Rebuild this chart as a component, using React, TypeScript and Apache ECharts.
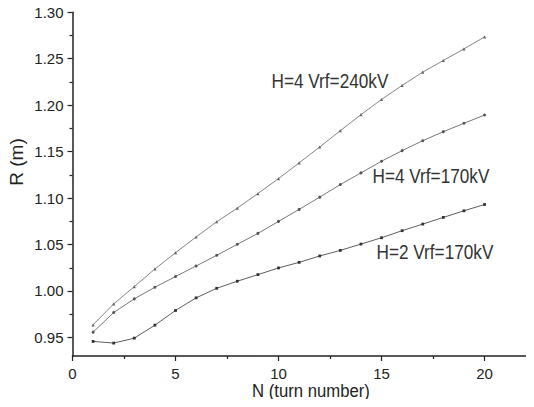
import React, { useEffect, useRef } from "react";
import * as echarts from "echarts";

const turns = [1, 2, 3, 4, 5, 6, 7, 8, 9, 10, 11, 12, 13, 14, 15, 16, 17, 18, 19, 20];
const h4v240 = [0.9636, 0.9861, 1.0047, 1.0237, 1.0412, 1.0581, 1.0745, 1.0892, 1.1049, 1.121, 1.1379, 1.155, 1.1726, 1.1898, 1.2062, 1.2213, 1.2356, 1.2481, 1.2606, 1.2735];
const h4v170 = [0.9557, 0.9768, 0.9915, 1.004, 1.0155, 1.0269, 1.0384, 1.0502, 1.062, 1.0749, 1.0878, 1.101, 1.1146, 1.1271, 1.1397, 1.1511, 1.1618, 1.1715, 1.1805, 1.1894];
const h2v170 = [0.9457, 0.9439, 0.9492, 0.9632, 0.979, 0.9926, 1.0029, 1.0105, 1.0176, 1.0248, 1.0308, 1.0377, 1.0437, 1.0505, 1.0573, 1.0649, 1.072, 1.0792, 1.0863, 1.0931];
const seriesNames = ["H=4 Vrf=240kV", "H=4 Vrf=170kV", "H=2 Vrf=170kV"];
const yTicks = [0.95, 1.0, 1.05, 1.1, 1.15, 1.2, 1.25, 1.3];
const yMinorTicks = [0.975, 1.025, 1.075, 1.125, 1.175, 1.225, 1.275];
const xTitle = "N (turn number)";
const yTitle = "R (m)";

const FONT = "'Liberation Sans', Arial, Helvetica, sans-serif";

export default function App() {
  const ref = useRef<HTMLDivElement>(null);
  useEffect(() => {
    if (!ref.current) return;
    const chart = echarts.init(ref.current, undefined, { renderer: "svg" });
    const pair = (ys: number[]) => turns.map((x, i) => [x, ys[i]]);
    const mk = (name: string, ys: number[], symbol: string, size: number, color: string) => ({
      name,
      type: "line",
      data: pair(ys),
      symbol,
      symbolSize: size,
      showSymbol: true,
      yAxisIndex: 0,
      lineStyle: { color, width: 0.8 },
      itemStyle: { color },
      z: 3,
    });
    const annot = (text: string, x: number, y: number) => ({
      type: "text",
      x,
      y,
      scaleX: 0.86,
      style: {
        text,
        font: `20px ${FONT}`,
        fill: "#333",
        textAlign: "left",
        textVerticalAlign: "middle",
      },
    });
    const yBase = {
      type: "value",
      min: 0.93,
      max: 1.3,
      position: "left",
      splitLine: { show: false },
    };
    const tickLabel = { fontSize: 15, fontFamily: FONT, color: "#222" };
    chart.setOption({
      animation: false,
      backgroundColor: "#ffffff",
      grid: { left: 72.5, right: 0, top: 12.3, bottom: 51, containLabel: false },
      xAxis: {
        type: "value",
        min: 0,
        max: 22.4,
        interval: 5,
        axisLine: { show: true, onZero: false, lineStyle: { color: "#222", width: 1.5 } },
        axisTick: { show: true, length: 5, inside: false, lineStyle: { color: "#222", width: 1.2 } },
        minorTick: { show: true, splitNumber: 2, length: 3, lineStyle: { color: "#222", width: 1.2 } },
        splitLine: { show: false },
        axisLabel: { ...tickLabel, margin: 10, showMaxLabel: false },
      },
      yAxis: [
        {
          ...yBase,
          axisLine: { show: true, onZero: false, lineStyle: { color: "#222", width: 1.5 } },
          axisTick: { show: true, length: 5, inside: false, customValues: yTicks, lineStyle: { color: "#222", width: 1.2 } },
          axisLabel: {
            ...tickLabel,
            margin: 9,
            customValues: yTicks,
            formatter: (v: number) => v.toFixed(2),
          },
        },
        {
          ...yBase,
          axisLine: { show: false },
          axisTick: { show: true, length: 3, inside: false, customValues: yMinorTicks, lineStyle: { color: "#222", width: 1.2 } },
          axisLabel: { show: false },
        },
      ],
      series: [
        mk(seriesNames[0], h4v240, "triangle", 3.2, "#666"),
        mk(seriesNames[1], h4v170, "circle", 3, "#555"),
        mk(seriesNames[2], h2v170, "rect", 2.8, "#333"),
      ],
      graphic: [
        annot(seriesNames[0], 271.5, 81),
        annot(seriesNames[1], 372.5, 176),
        annot(seriesNames[2], 376.5, 252),
        {
          type: "text",
          x: 311,
          y: 391,
          scaleX: 0.88,
          style: {
            text: xTitle,
            font: `19px ${FONT}`,
            fill: "#222",
            textAlign: "center",
            textVerticalAlign: "middle",
          },
        },
        {
          type: "text",
          x: 16,
          y: 162,
          rotation: Math.PI / 2,
          style: {
            text: yTitle,
            font: `19px ${FONT}`,
            fill: "#222",
            textAlign: "center",
            textVerticalAlign: "middle",
          },
        },
      ],
    });
    return () => chart.dispose();
  }, []);
  return <div ref={ref} style={{ width: 534, height: 407, margin: -8 }} />;
}
